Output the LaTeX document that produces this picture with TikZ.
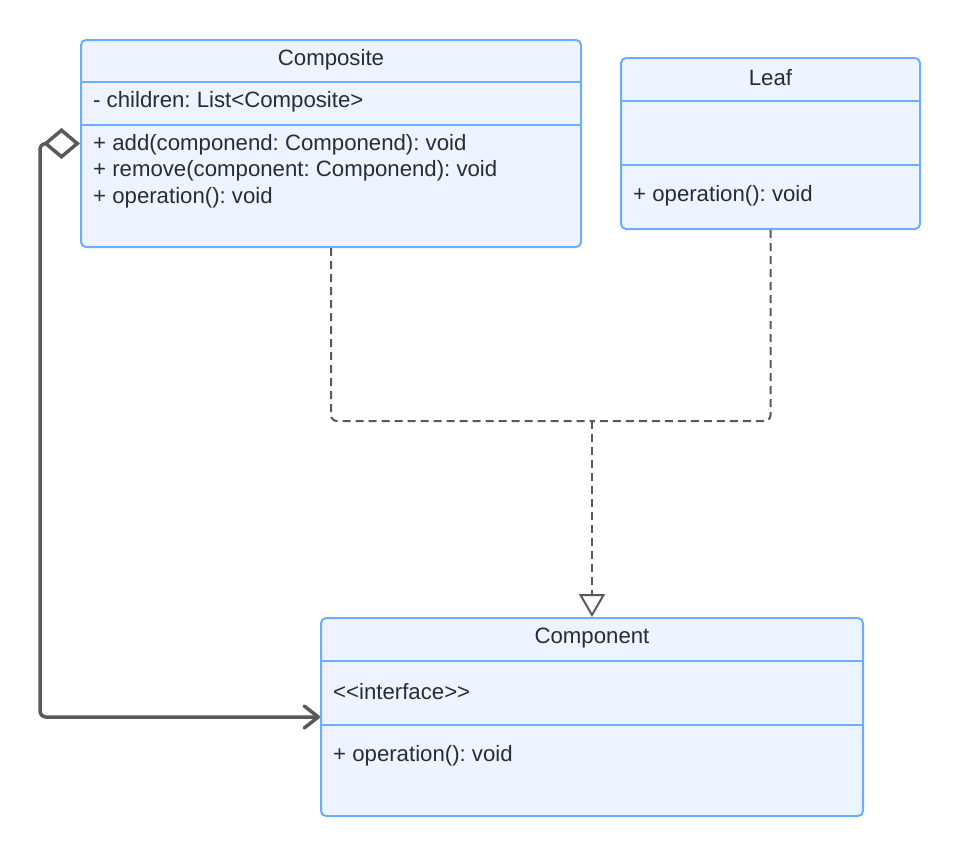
\documentclass[tikz,border=0pt]{standalone}
\usepackage{fontspec}
\setmainfont{Liberation Sans}
\usetikzlibrary{arrows.meta}
\definecolor{boxfill}{HTML}{EDF4FF}
\definecolor{boxline}{HTML}{6AAEFF}
\definecolor{txt}{HTML}{282C33}
\definecolor{conn}{HTML}{595959}
\begin{document}
\frenchspacing
\begin{tikzpicture}[x=1pt,y=-1pt,
  umlbox/.style={draw=boxline,fill=boxfill,line width=2pt,rounded corners=5pt,inner sep=0pt},
  divider/.style={draw=boxline,line width=2pt},
  title/.style={text=txt,font=\fontsize{22.2}{26}\selectfont,inner sep=0pt,anchor=center},
  member/.style={text=txt,font=\fontsize{22.2}{26}\selectfont,inner sep=0pt,anchor=west},
  dep/.style={draw=conn,line width=2pt,dash pattern=on 8pt off 5pt,rounded corners=6pt},
  agg/.style={draw=conn,line width=3.5pt,rounded corners=6pt,line cap=round}]
\useasboundingbox (0,0) rectangle (961,857);
% boxes
\node[umlbox,minimum width=500pt,minimum height=207pt] (composite) at (331,143.5) {};
\node[umlbox,minimum width=299pt,minimum height=171pt] (leaf) at (770.5,143.5) {};
\node[umlbox,minimum width=542pt,minimum height=198pt] (component) at (592,717) {};
% dividers
\draw[divider] (81,82) -- (581,82);
\draw[divider] (81,125) -- (581,125);
\draw[divider] (621,101) -- (920,101);
\draw[divider] (621,165) -- (920,165);
\draw[divider] (321,661) -- (863,661);
\draw[divider] (321,725) -- (863,725);
% texts
\node[title] (tcomposite) at (331,59.5) {Composite};
\node[member] (ca1) at (93,101.5) {- children: List<Composite>};
\node[member] (cm1) at (93,144.5) {+ add(componend: Componend): void};
\node[member] (cm2) at (93,171) {+ remove(component: Componend): void};
\node[member] (cm3) at (93,197.5) {+ operation(): void};
\node[title] (tleaf) at (770.5,77.5) {Leaf};
\node[member] (lm1) at (633,195.5) {+ operation(): void};
\node[title] (tcomponent) at (592,638.5) {Component};
\node[member] (pa1) at (333,691.5) {<{}<interface>{}>};
\node[member] (pm1) at (333,755.5) {+ operation(): void};
% connectors
\coordinate (j) at (592,421);
\coordinate (aggl) at (40,143.5);
\coordinate (aggb) at (40,717);
\draw[dep] (composite.south) |- (j);
\draw[dep] (leaf.south) |- (j);
\draw[dep,-{Triangle[open,length=23pt,width=26pt,line width=2pt]}] (j) -- (component.north);
\draw[agg,{Diamond[open,length=37pt,width=31pt,line width=3.5pt]}-{Straight Barb[length=14pt,width=22pt,line width=3.5pt,round]}] (composite.west) -- (aggl) -- (aggb) -- (component.west);
\end{tikzpicture}
\end{document}
